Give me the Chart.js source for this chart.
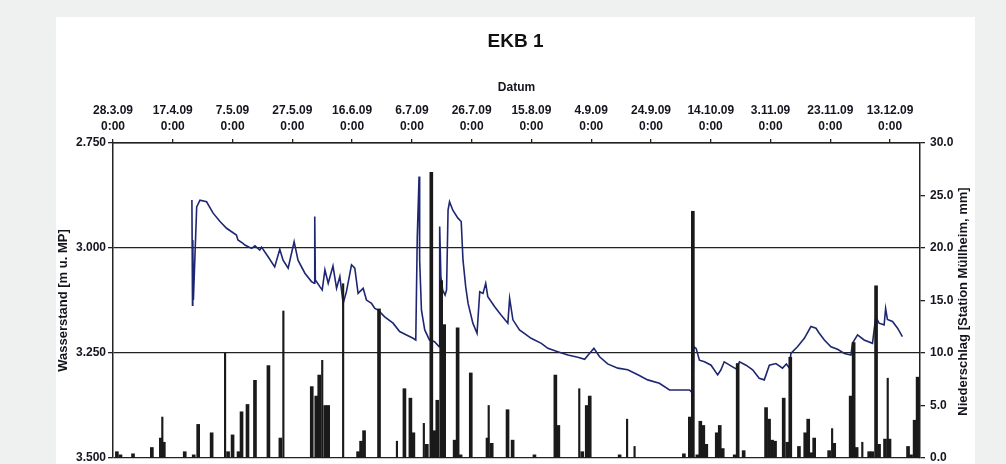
<!DOCTYPE html>
<html>
<head>
<meta charset="utf-8">
<script src="https://cdn.jsdelivr.net/npm/chart.js@4.4.1/dist/chart.umd.min.js"></script>
<style>
  body { margin: 0; background: #eff0f0; width: 1006px; height: 464px; overflow: hidden; }
  #box { position: absolute; left: 56px; top: 17px; width: 919px; height: 447px; background: #fff; }
</style>
</head>
<body>
<div id="box"><canvas id="myChart"></canvas></div>
<script>
// x = days since 28.3.09 0:00

const tickDays = [0, 20, 40, 60, 80, 100, 120, 140, 160, 180, 200, 220, 240, 260];
const dateLabels = ['28.3.09', '17.4.09', '7.5.09', '27.5.09', '16.6.09', '6.7.09', '26.7.09',
  '15.8.09', '4.9.09', '24.9.09', '14.10.09', '3.11.09', '23.11.09', '13.12.09'];
const timeLabel = '0:00';

// Wasserstand [m u. MP]
const levelDays = [26.4,26.6,26.7,26.9,28.0,29.1,31.3,33.5,35.8,38.0,
  41.3,41.8,43.5,44.1,46.4,47.5,49.1,49.7,51.9,54.1,
  55.8,56.9,58.6,60.6,61.9,64.2,66.4,67.3,67.5,67.7,
  69.2,70.0,70.9,72.0,73.6,74.8,75.9,77.0,78.1,79.8,
  80.9,82.0,83.7,84.8,86.5,87.6,88.7,90.9,93.7,95.9,
  98.2,100.4,101.3,101.8,102.4,102.6,103.2,104.3,105.9,107.6,
  109.1,109.3,109.7,110.3,111.1,111.6,112.1,112.6,113.7,115.4,
  116.5,117.1,118.0,118.8,120.4,121.8,122.7,123.8,124.7,125.4,
  127.7,129.9,132.1,132.7,133.8,136.0,139.9,143.3,145.5,148.8,
  152.2,155.5,157.8,159.4,160.9,162.8,165.5,168.9,172.2,175.6,
  178.9,182.8,186.2,189.5,192.9,194.0,194.3,195.1,196.2,197.9,
  200.1,202.3,203.4,204.5,207.3,208.5,209.6,211.8,214.0,216.2,
  217.9,219.6,221.8,224.0,225.3,226.3,226.8,229.0,231.3,233.5,
  235.2,236.3,238.0,240.2,242.4,244.7,246.9,247.4,249.1,251.3,
  254.1,255.2,256.3,258.0,258.5,259.1,260.8,262.5,264.1];
const levelValues = [2.886,3.136,2.981,3.124,2.902,2.886,2.890,2.917,2.937,2.953,
  2.969,2.981,2.989,2.993,3.001,2.995,3.005,2.998,3.021,3.045,
  3.003,3.029,3.048,2.985,3.029,3.060,3.080,3.084,2.925,3.076,
  3.092,3.100,3.052,3.084,3.043,3.096,3.068,3.132,3.104,3.040,
  3.048,3.108,3.096,3.124,3.132,3.144,3.148,3.164,3.179,3.199,
  3.207,3.215,3.219,2.973,2.830,3.029,3.148,3.195,3.219,3.223,
  3.235,2.949,3.068,3.100,3.112,3.100,2.910,2.890,2.910,2.929,
  2.937,3.029,3.092,3.132,3.179,3.203,3.104,3.108,3.084,3.116,
  3.140,3.160,3.179,3.120,3.171,3.195,3.215,3.227,3.239,3.247,
  3.255,3.260,3.265,3.251,3.239,3.259,3.276,3.286,3.290,3.302,
  3.314,3.322,3.338,3.338,3.338,3.346,3.235,3.239,3.267,3.271,
  3.279,3.302,3.290,3.271,3.283,3.288,3.271,3.279,3.290,3.310,
  3.314,3.279,3.275,3.286,3.276,3.286,3.251,3.235,3.215,3.187,
  3.191,3.203,3.219,3.235,3.241,3.251,3.255,3.227,3.207,3.219,
  3.227,3.164,3.179,3.183,3.144,3.170,3.175,3.191,3.211];

// Niederschlag [mm], daily bars
const rainDays = [1.3,2.5,6.7,13,16,17,24,27,28.5,33,
  38.5,40,42,43,45,47.5,52,56,66.5,68,
  69,71,72,82,83,84,89,97.5,99.5,100.5,
  105,106.5,107.5,108.5,109.8,110.8,114.3,115.3,116.3,119.7,
  125.3,126.7,132,133.7,141,148,149,157,158.5,159.5,
  169.5,191,193,194,195.5,196.5,197.5,198.5,202,203,
  204,208,209,211,218.5,219.5,220.5,221.5,224.4,225.6,
  226.6,229.5,231.6,232.6,233.6,234.6,239.6,241.3,246.8,247.8,
  248.8,253,254,255.3,256.3,258.3,259.8,266,267,268.2,
  269.2];
const rainMm = [0.6,0.3,0.4,1.0,1.9,1.5,0.6,0.3,3.2,2.4,
  0.6,2.2,0.6,4.4,5.1,7.4,8.8,1.9,6.8,5.9,
  7.9,5.0,5.0,0.6,1.6,2.6,14.2,6.6,5.7,2.4,
  1.3,27.2,2.6,5.5,16.9,12.7,1.7,12.4,0.3,8.1,
  1.9,1.4,4.6,1.7,0.3,7.9,3.1,0.6,5.0,5.9,
  0.3,0.4,3.9,23.5,0.3,3.5,3.1,1.3,2.4,3.1,
  0.9,0.3,9.0,0.7,4.8,3.7,1.7,1.6,5.7,1.5,
  9.6,1.1,2.4,3.7,0.5,1.9,0.7,1.4,5.9,11.0,
  1.0,0.6,0.6,16.4,1.3,1.8,1.8,1.1,0.3,3.6,
  7.7];

// short showers, thin bars
const thinDays = [16.5,37.5,57,70,77,95,104,125.7,156,172,174.5,240.6,250.7,259.2];
const thinMm = [3.9,10.0,14.0,9.3,16.6,1.6,3.3,5.0,6.6,3.7,1.1,2.8,1.5,7.6];

const txt = '#15151f';
const axisFont = { family: 'Liberation Sans', size: 12, weight: 'bold', lineHeight: 1.33 };

// no extra room for half tick labels, the plot has to fill the box
function noPad(s) {
  s.paddingTop = 0;
  s.paddingBottom = 0;
  s.paddingLeft = 0;
  s.paddingRight = 0;
}

const rightTitle = {
  id: 'rightTitle',
  afterDraw(chart) {
    const c = chart.ctx;
    const a = chart.chartArea;
    c.save();
    c.translate(907, (a.top + a.bottom) / 2 + 1);
    c.rotate(-Math.PI / 2);
    c.font = 'bold 13px "Liberation Sans"';
    c.fillStyle = txt;
    c.textAlign = 'center';
    c.textBaseline = 'middle';
    c.fillText('Niederschlag [Station Müllheim, mm]', 0, 0);
    c.restore();
  }
};

const ctx = document.getElementById('myChart');

new Chart(ctx, {
  type: 'bar',
  data: {
    datasets: [{
      type: 'line',
      label: 'Wasserstand',
      data: levelDays.map((d, i) => ({ x: d, y: levelValues[i] })),
      yAxisID: 'y',
      borderColor: '#1e2672',
      borderWidth: 1.6,
      pointRadius: 0,
      tension: 0,
      order: 2
    }, {
      label: 'Niederschlag',
      data: rainDays.map((d, i) => ({ x: d, y: rainMm[i] })),
      yAxisID: 'y1',
      backgroundColor: '#1a1a1a',
      barThickness: 3,
      grouped: false,
      order: 1
    }, {
      label: 'Niederschlag kurz',
      data: thinDays.map((d, i) => ({ x: d, y: thinMm[i] })),
      yAxisID: 'y1',
      backgroundColor: '#1a1a1a',
      barThickness: 1.5,
      grouped: false,
      order: 1
    }]
  },
  options: {
    responsive: true,
    maintainAspectRatio: false,
    animation: false,
    layout: { padding: { top: 0, left: 0, right: 0, bottom: 6 }, autoPadding: false },
    plugins: {
      legend: { display: false },
      tooltip: { enabled: false },
      title: {
        display: true,
        text: 'EKB 1',
        color: '#111',
        font: { family: 'Liberation Sans', size: 19, weight: 'bold', lineHeight: 1.2 },
        padding: { top: 13.6, bottom: 0 }
      }
    },
    scales: {
      x: {
        type: 'linear',
        position: 'top',
        min: 0,
        max: 270,
        offset: false,
        afterBuildTicks: s => { s.ticks = tickDays.map(v => ({ value: v })); },
        afterFit: s => { s.height = 89.6; noPad(s); },
        ticks: {
          autoSkip: false,
          maxRotation: 0,
          padding: 4,
          color: txt,
          font: axisFont,
          callback: (v, i) => [dateLabels[i], timeLabel]
        },
        grid: { drawOnChartArea: false, offset: false, tickLength: 4, color: '#222', lineWidth: 1.3 },
        border: { color: '#222', width: 1.5 },
        title: {
          display: true,
          text: 'Datum',
          color: txt,
          font: { family: 'Liberation Sans', size: 12, weight: 'bold' },
          padding: { top: 27.4, bottom: 0 }
        }
      },
      y: {
        position: 'left',
        reverse: true,
        min: 2.75,
        max: 3.5,
        afterFit: s => { s.width = 57; noPad(s); },
        ticks: {
          stepSize: 0.25,
          padding: 2,
          color: txt,
          font: axisFont,
          callback: v => v.toFixed(3)
        },
        grid: { color: '#222', lineWidth: 1.3, tickLength: 5 },
        border: { color: '#222', width: 1.5 },
        title: {
          display: true,
          text: 'Wasserstand [m u. MP]',
          color: txt,
          font: { family: 'Liberation Sans', size: 13, weight: 'bold' },
          padding: { top: 0, bottom: 0 }
        }
      },
      y1: {
        position: 'right',
        min: 0,
        max: 30,
        afterFit: s => { s.width = 55; noPad(s); },
        ticks: {
          stepSize: 5,
          padding: 5,
          color: txt,
          font: axisFont,
          callback: v => v.toFixed(1)
        },
        grid: { drawOnChartArea: false, color: '#222', lineWidth: 1.3, tickLength: 5 },
        border: { color: '#222', width: 1.5 }
      }
    }
  },
  plugins: [rightTitle]
});
</script>
</body>
</html>
